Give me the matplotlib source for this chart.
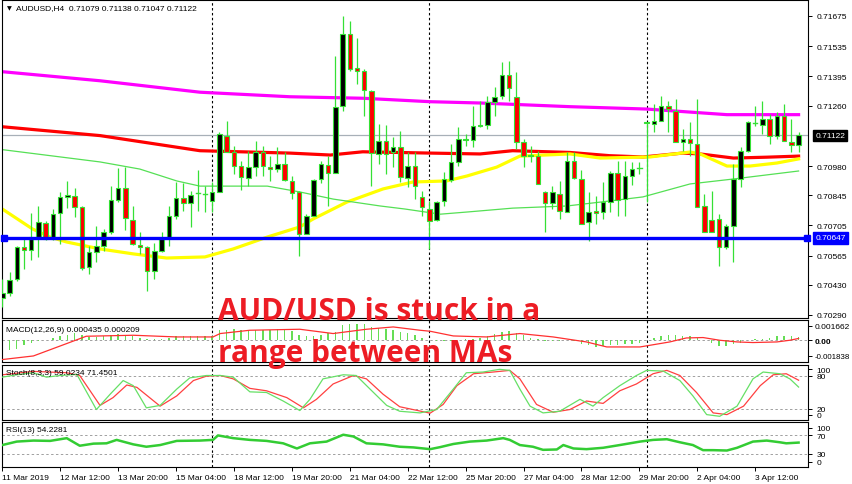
import matplotlib
matplotlib.use("Agg")
import matplotlib.pyplot as plt
import matplotlib.transforms as mtransforms
from matplotlib.patches import Rectangle

# ---- candles AUDUSD H4 (bar index 0 = first visible bar) ----
opens = [
    .70369, .70392, .70457, .70605, .70591, .70651, .70716, .70642, .70762, .70836,
    .70841, .70790, .70512, .70582, .70610, .70675, .70823, .70878, .70730, .70614,
    .70605, .70494, .70587, .70647, .70748, .70832, .70809, .70855, .70850, .70818,
    .70859, .71119, .71045, .70980, .70925, .70975, .71045, .70975, .70966, .70989,
    .70911, .70859, .70665, .70748, .70920, .70985, .70948, .71258, .71592, .71434,
    .71420, .71328, .71036, .71096, .71045, .71068, .70925, .70980, .70836, .70781,
    .70730, .70818, .70915, .70999, .71100, .71100, .71165, .71170, .71276, .71304,
    .71402, .71300, .71091, .71026, .71026, .70859, .70809, .70850, .70767, .71003,
    .70920, .70721, .70771, .70767, .70813, .70948, .70827, .70934, .70971, .71179,
    .71175, .71189, .71258, .71235, .71091, .71105, .71082, .70794, .70730, .70734,
    .70605, .70702, .70920, .71050, .71179, .71170, .71198, .71119, .71212, .71091,
    .71079]
highs = [
    .70457, .70489, .70610, .70642, .70762, .70794, .70725, .70781, .70859, .70911,
    .70878, .70794, .70610, .70702, .70688, .70887, .70971, .70975, .70794, .70675,
    .70610, .70624, .70675, .70794, .70906, .70901, .70864, .70962, .70887, .70906,
    .71138, .71189, .71073, .71003, .71050, .71096, .71073, .71026, .71068, .71045,
    .70934, .70864, .70757, .70920, .71003, .71026, .71490, .71675, .71652, .71573,
    .71430, .71332, .71175, .71170, .71114, .71142, .71045, .71045, .70864, .70818,
    .70818, .70953, .71082, .71161, .71128, .71258, .71281, .71304, .71346, .71462,
    .71467, .71416, .71105, .71073, .71050, .70864, .70887, .70911, .71045, .71045,
    .70962, .70859, .70841, .70906, .70957, .71003, .71003, .70999, .70999, .71184,
    .71267, .71304, .71281, .71290, .71152, .71184, .71290, .70850, .70864, .70757,
    .70712, .70989, .71068, .71189, .71258, .71281, .71221, .71230, .71267, .71198,
    .71138]
lows = [
    .70327, .70378, .70448, .70503, .70545, .70559, .70637, .70637, .70619, .70785,
    .70744, .70498, .70480, .70536, .70587, .70665, .70813, .70684, .70614, .70573,
    .70401, .70457, .70582, .70610, .70734, .70771, .70698, .70771, .70767, .70767,
    .70859, .71045, .70943, .70869, .70887, .70934, .70934, .70911, .70953, .70911,
    .70827, .70563, .70665, .70748, .70901, .70794, .70948, .71235, .71420, .71360,
    .71212, .70887, .70989, .70943, .70975, .70906, .70883, .70827, .70748, .70596,
    .70725, .70794, .70906, .70980, .71073, .71068, .71161, .71152, .71212, .71290,
    .71281, .71059, .70975, .70999, .70897, .70675, .70781, .70734, .70767, .70920,
    .70712, .70633, .70712, .70734, .70767, .70748, .70748, .70892, .70943, .70813,
    .71138, .71189, .71138, .71091, .71050, .71026, .70790, .70675, .70675, .70517,
    .70596, .70536, .70883, .71045, .71165, .71128, .71082, .71105, .71096, .71045,
    .71047]
closes = [
    .70392, .70452, .70605, .70591, .70651, .70721, .70642, .70757, .70836, .70846,
    .70790, .70508, .70582, .70610, .70675, .70823, .70878, .70739, .70619, .70605,
    .70494, .70587, .70647, .70748, .70832, .70809, .70846, .70853, .70848, .70859,
    .71128, .71045, .70980, .70929, .70975, .71045, .70980, .70966, .70989, .70915,
    .70855, .70665, .70748, .70915, .70989, .70948, .71253, .71592, .71430, .71420,
    .71332, .71040, .71096, .71036, .71068, .70929, .70980, .70887, .70790, .70725,
    .70813, .70920, .70999, .71105, .71105, .71165, .71170, .71276, .71300, .71402,
    .71341, .71091, .71026, .71031, .70897, .70809, .70859, .70771, .71003, .70925,
    .70712, .70767, .70762, .70813, .70948, .70823, .70934, .70966, .70969, .71184,
    .71189, .71258, .71244, .71091, .71105, .71087, .70790, .70675, .70675, .70605,
    .70702, .70920, .71050, .71184, .71177, .71198, .71119, .71212, .71096, .71077,
    .71122]

# ---- moving averages (read at points along the line) ----
ma_magenta_x = [0, 13.5, 27.3, 39.7, 49.8, 59.1, 66, 78.4, 89, 100.1, 110]
ma_magenta_y = [.71417, .71375, .71322, .71301, .71294, .71278, .71272, .71255, .71244, .71218, .71218]
ma_red_x = [0, 13.5, 27.3, 39.7, 45.3, 49.8, 59.1, 66, 70.5, 78.4, 83.9, 88.5, 94, 96.4, 101, 105.6, 110]
ma_red_y = [.71162, .71121, .71051, .71040, .71031, .71046, .71040, .71036, .71051, .71043,
            .71028, .71022, .71040, .71036, .71017, .71021, .71026]
ma_yellow_x = [0, 4.2, 6.6, 8.9, 13.5, 18.1, 22.7, 28, 31.9, 36.6, 41.1, 42.9, 47.6, 52.6, 56.7,
               61.4, 64.2, 68.3, 71.5, 78.4, 82.6, 89.5, 95, 96.4, 100.1, 103.3, 107, 110]
ma_yellow_y = [.70781, .70688, .70651, .70628, .70596, .70573, .70554, .70559, .70596, .70651,
               .70698, .70734, .70813, .70874, .70906, .70911, .70934, .70975, .71026, .71036,
               .71017, .71022, .71045, .71036, .70980, .70980, .70994, .71013]
ma_green_x = [0, 13.5, 19, 24.1, 27.3, 36.6, 41.1, 45.7, 52.2, 55.6, 60.5, 64.2, 70.5, 78, 82.6,
              88.5, 95, 101, 110]
ma_green_y = [.71056, .70999, .70966, .70911, .70887, .70887, .70860, .70827, .70795, .70781,
              .70757, .70767, .70785, .70795, .70813, .70837, .70897, .70920, .70957]

support_level = 0.70647
last_price = 0.71122
price_ticks = [0.71675, 0.71535, 0.71395, 0.71260, 0.70980, 0.70845, 0.70705, 0.70565, 0.70430, 0.70290]
price_labels = ["0.71675", "0.71535", "0.71395", "0.71260", "0.70980", "0.70845",
                "0.70705", "0.70565", "0.70430", "0.70290"]

# ---- MACD(12,26,9) ----
macd_hist = [
    -0.001365, -0.001167, -0.000968, -0.000583, -0.000315, -0.000117, 0.000058, 0.000268, 0.000467, 0.000665,
    0.000852, 0.000583, 0.000385, 0.000385, 0.000467, 0.000665, 0.000782, 0.000665, 0.000467, 0.000268,
    0.000117, 0.000117, 0.000198, 0.000315, 0.000467, 0.000467, 0.000467, 0.000467, 0.000467, 0.000467,
    0.001167, 0.001248, 0.001283, 0.001248, 0.001248, 0.001248, 0.001248, 0.001248, 0.001283, 0.001167,
    0.001050, 0.000583, 0.000467, 0.000467, 0.000665, 0.000852, 0.000968, 0.001750, 0.001948, 0.001948,
    0.001948, 0.001552, 0.001435, 0.001365, 0.001248, 0.000968, 0.000852, 0.000583, 0.000268, 0.000000,
    -0.000117, -0.000117, -0.000082, 0.000000, 0.000117, 0.000198, 0.000315, 0.000502, 0.000782, 0.000968,
    0.001085, 0.000852, 0.000583, 0.000315, 0.000198, -0.000117, -0.000117, -0.000117, 0.000000, -0.000082,
    -0.000385, -0.000583, -0.000782, -0.000700, -0.000583, -0.000583, -0.000467, -0.000385, -0.000268, 0.000000,
    0.000268, 0.000467, 0.000583, 0.000583, 0.000502, 0.000467, 0.000268, 0.000000, -0.000315, -0.000665,
    -0.000700, -0.000467, -0.000268, 0.000000, 0.000198, 0.000198, 0.000315, 0.000502, 0.000502, 0.000502,
    0.000435]
macd_sig_x = [0, 4.3, 8.9, 11.6, 18.1, 24.1, 29.1, 30.1, 34.2, 41.1, 45.7, 50.3, 54, 57.7, 59.1,
              62.3, 66.9, 71.5, 76.1, 80.7, 83.5, 88.1, 92.2, 94.5, 96.8, 99.1, 101.5, 103.7, 107, 108.8, 110]
macd_sig_y = [-0.002252, -0.001832, -0.000385, 0.000467, 0.000583, 0.000385, 0.000385, 0.000782, 0.001167,
              0.001283, 0.000782, 0.001283, 0.001552, 0.001167, 0.001050, 0.000502, 0.000385, 0.000782,
              0.000385, -0.000198, -0.000782, -0.000782, -0.000198, 0.000268, 0.000315, 0.000000,
              -0.000198, -0.000268, -0.000198, 0.000000, 0.000209]

# ---- Stochastic(8,3,3) ----
stoch_k_x = [0, 2, 4.3, 6.1, 8, 10.3, 13, 14.9, 16.7, 18.1, 19.9, 21.8, 24.1, 25.9, 28.2, 30.1, 31.9,
             34.2, 36.5, 38.8, 41.1, 42.5, 44.3, 47.1, 48.9, 50.8, 53.1, 54.9, 57.7, 60, 62.3, 64.1,
             66.4, 68.7, 70.1, 71.5, 72.9, 74.7, 77, 79.8, 81.6, 83, 85.3, 87.6, 89, 91.3, 93.6, 95.4,
             97.3, 99.1, 101.5, 103.7, 105.1, 107.4, 108.8, 110]
stoch_k_y = [77, 81.3, 85, 77, 80, 82, 18.1, 46, 70.8, 61.5, 21.2, 25.6, 55.3, 75.7, 80, 80, 77,
             50.3, 49.1, 33.6, 16.3, 36.7, 73.9, 81.3, 80, 55.3, 25.6, 15, 12, 18.1, 55.3, 85,
             86.3, 91.2, 89.3, 55.3, 24.3, 12, 15, 36.7, 24.3, 39.8, 61.5, 80, 89.3, 88, 70.8, 42.9,
             8.9, 5.8, 24.3, 73.9, 86.3, 83.2, 73.9, 59.0]
stoch_d_x = [0, 4.3, 8.9, 10.7, 13.5, 15.3, 17.2, 18.6, 21.8, 24.1, 26.4, 28.2, 30.1, 31.9, 34.2,
             36.5, 39.3, 41.6, 43.4, 45.7, 48.5, 50.3, 52.6, 54.9, 59.1, 60.9, 62.8, 65.1, 67.8, 70.1,
             71.5, 73.8, 76.1, 78.4, 80.7, 83, 85.3, 87.6, 89.9, 91.8, 93.6, 95.9, 98.2, 100.1, 102.4,
             104.7, 106.5, 108.3, 110]
stoch_d_y = [81.3, 87.5, 85, 80, 25.6, 39.8, 62.7, 58.4, 24.3, 42.9, 70.8, 78.8, 80, 73.9, 56.6,
             52.2, 39.8, 21.2, 36.7, 64.6, 80, 73.9, 46, 23.2, 11.5, 27.4, 61.5, 83.2, 86.3, 89.3,
             73.9, 27.4, 13.2, 18.1, 33.6, 29.3, 52.2, 64.6, 83.2, 89.3, 80, 49.1, 12, 8.9, 24.3,
             61.5, 81.3, 83.2, 71.45]

# ---- RSI(13) ----
rsi_x = [0, 2, 4.3, 6.6, 8.9, 10.7, 12.6, 14.4, 15.8, 18.1, 19.9, 21.8, 24.1, 27.3, 29.1, 29.8,
         31.9, 34.2, 36.5, 38.8, 40.7, 42.5, 44.8, 47.1, 48.5, 50.3, 52.6, 54.9, 56.8, 59.1, 60.5,
         62.3, 64.6, 66.9, 69.2, 70.1, 71.5, 73.3, 74.7, 76.6, 77.5, 78.9, 80.7, 83, 85.3, 88.1,
         89.9, 91.8, 93.6, 95.4, 96.8, 98.2, 100.1, 101.5, 103.7, 105.6, 107.4, 108.3, 110]
rsi_y = [48.8, 56.4, 58.6, 57.9, 63.9, 47.3, 51.9, 52.6, 60.1, 50.3, 45.1, 48.8, 57.9, 58.6, 60.1, 69.9,
         63.9, 60.1, 57.9, 52.6, 41.3, 52.6, 56.4, 71.4, 67.6, 52.6, 50.3, 45.1, 43.6, 39.8, 44.3,
         51.1, 56.4, 58.6, 63.9, 60.1, 48.8, 45.1, 38.3, 39.1, 48.8, 41.3, 39.8, 42.8, 48.8, 56.4,
         60.1, 61.6, 54.9, 48.8, 37.6, 37.6, 36.8, 42.8, 56.4, 58.6, 54.9, 52.6, 54.2]

date_idx = [0, 8, 16, 24, 32, 40, 48, 56, 64, 72, 80, 88, 96, 104]
date_labels = ["11 Mar 2019", "12 Mar 12:00", "13 Mar 20:00", "15 Mar 04:00", "18 Mar 12:00",
               "19 Mar 20:00", "21 Mar 04:00", "22 Mar 12:00", "25 Mar 20:00", "27 Mar 04:00",
               "28 Mar 12:00", "29 Mar 20:00", "2 Apr 04:00", "3 Apr 12:00"]
week_sep = [29, 59, 89]

plt.rcParams['font.family'] = ['Liberation Sans', 'DejaVu Sans']
W, H = 852, 485
fig = plt.figure(figsize=(W / 100, H / 100), dpi=100)
fig.patch.set_facecolor('white')

def panel(top, bottom):
    return fig.add_axes([2 / W, 1 - bottom / H, 806 / W, (bottom - top) / H])

ax = panel(1, 319)
ax_macd = panel(321, 363)
ax_st = panel(365.5, 420.5)
ax_rsi = panel(422.7, 468.3)
axes = [ax, ax_macd, ax_st, ax_rsi]

XMIN, XMAX = -0.04, 111.3
wick_c = '#35e035'
for a in axes:
    a.set_xlim(XMIN, XMAX)
    a.set_facecolor('white')
    for s in a.spines.values():
        s.set_color('black')
        s.set_linewidth(0.8)
    a.yaxis.tick_right()
    a.tick_params(axis='y', direction='out', length=3, width=0.7, pad=3, labelsize=6)
    a.tick_params(axis='x', bottom=False, labelbottom=False)
    for s in week_sep:
        a.axvline(s, color='black', lw=0.8, ls=(0, (2.2, 2.2)), zorder=1)

# main panel
ax.set_ylim(0.702761, 0.717491)
ax.plot(ma_magenta_x, ma_magenta_y, color='#ff00ff', lw=2.3, zorder=2)
ax.plot(ma_red_x, ma_red_y, color='#ff0000', lw=2.3, zorder=2)
ax.plot(ma_yellow_x, ma_yellow_y, color='#ffff00', lw=2.3, zorder=2)
ax.plot(ma_green_x, ma_green_y, color='#55e055', lw=0.9, zorder=2)
ax.axhline(last_price, color='#a8b0b8', lw=0.9, zorder=1.5)

bw = 0.62
for i, (o, h, l, c) in enumerate(zip(opens, highs, lows, closes)):
    ax.plot([i, i], [l, h], color=wick_c, lw=0.9, zorder=3, solid_capstyle='butt')
    lo, hi = min(o, c), max(o, c)
    if hi - lo < 0.00003:
        ax.plot([i - bw / 2, i + bw / 2], [o, o], color=wick_c, lw=1.0, zorder=4)
    else:
        face = 'black' if c > o else '#ff0000'
        ax.add_patch(Rectangle((i - bw / 2, lo), bw, hi - lo, facecolor=face,
                               edgecolor=wick_c, lw=0.8, zorder=4))

ax.axhline(support_level, color='#0000ff', lw=2.4, zorder=5)
ax.plot([0.2, XMAX - 0.2], [support_level, support_level], ls='none', marker='s', ms=4,
        color='#0000ff', zorder=6, clip_on=False)
ax.set_yticks(price_ticks)
ax.set_yticklabels(price_labels)

trans = mtransforms.blended_transform_factory(ax.transAxes, ax.transData)
ax.text(1.009, last_price, "0.71122", transform=trans, fontsize=6, color='white', va='center',
        ha='left', bbox=dict(boxstyle='square,pad=0.25', facecolor='black', edgecolor='black'))
ax.text(1.009, support_level, "0.70647", transform=trans, fontsize=6, color='white', va='center',
        ha='left', bbox=dict(boxstyle='square,pad=0.25', facecolor='#0000ff', edgecolor='#0000ff'))
ax.text(0.006, 0.975, "\u25bc", transform=ax.transAxes, fontsize=4.5, va='center', ha='left',
        family='DejaVu Sans')
ax.text(0.017, 0.975, "AUDUSD,H4  0.71079 0.71138 0.71047 0.71122", transform=ax.transAxes,
        fontsize=6, va='center', ha='left')

# MACD panel
ax_macd.set_ylim(-0.002538, 0.002362)
ax_macd.axhline(0, color='#a0a0a0', lw=0.7, ls=(0, (2.5, 2.5)), zorder=1)
ax_macd.bar(range(len(macd_hist)), macd_hist, width=0.2, color='#66dd55', lw=0, zorder=2)
ax_macd.plot(macd_sig_x, macd_sig_y, color='#ff3030', lw=0.9, zorder=3)
ax_macd.set_yticks([0.001662, 0.0, -0.001838])
ax_macd.set_yticklabels(["0.001662", "0.00", "-0.001838"])
ax_macd.tick_params(axis='y', pad=1.5)
ax_macd.get_yticklabels()[1].set_fontweight('bold')
ax_macd.get_yticklabels()[2].set_fontsize(5.7)
ax_macd.text(0.005, 0.78, "MACD(12,26,9) 0.000435 0.000209", transform=ax_macd.transAxes,
             fontsize=6, va='center', ha='left')

# Stochastic panel
ax_st.set_ylim(0, 100)
for lv in (80, 20):
    ax_st.axhline(lv, color='#a0a0a0', lw=0.7, ls=(0, (2.5, 2.5)), zorder=1)
ax_st.plot(stoch_k_x, stoch_k_y, color='#66e066', lw=0.9, zorder=3)
ax_st.plot(stoch_d_x, stoch_d_y, color='#ff4040', lw=0.9, zorder=2)
ax_st.set_yticks([91, 80, 20, 9])
ax_st.set_yticklabels(["100", "80", "20", "0"])
ax_st.text(0.005, 0.86, "Stoch(8,3,3) 59.0234 71.4501", transform=ax_st.transAxes,
           fontsize=6, va='center', ha='left')

# RSI panel
ax_rsi.set_ylim(0, 100)
for lv in (70, 30):
    ax_rsi.axhline(lv, color='#a0a0a0', lw=0.7, ls=(0, (2.5, 2.5)), zorder=1)
ax_rsi.plot(rsi_x, rsi_y, color='#33cc33', lw=1.8, zorder=3)
ax_rsi.set_yticks([87, 70, 30, 12])
ax_rsi.set_yticklabels(["100", "70", "30", "0"])
ax_rsi.text(0.005, 0.82, "RSI(13) 54.2281", transform=ax_rsi.transAxes,
            fontsize=6, va='center', ha='left')
ax_rsi.set_xticks(date_idx)
ax_rsi.set_xticklabels(date_labels, ha='left')
ax_rsi.tick_params(axis='x', bottom=True, labelbottom=True, direction='out', length=3,
                   width=0.7, pad=1.5, labelsize=6)

# headline overlay
red_txt = '#ed1c24'
fig.text(218 / W, 1 - 320 / H, "AUD/USD is stuck in a", fontsize=21.5, fontweight='bold',
         color=red_txt, family='Open Sans', va='baseline', ha='left', zorder=20)
fig.text(218 / W, 1 - 362 / H, "range between MAs", fontsize=21.5, fontweight='bold',
         color=red_txt, family='Open Sans', va='baseline', ha='left', zorder=20)

fig.savefig('out.png', dpi=100, facecolor='white')
